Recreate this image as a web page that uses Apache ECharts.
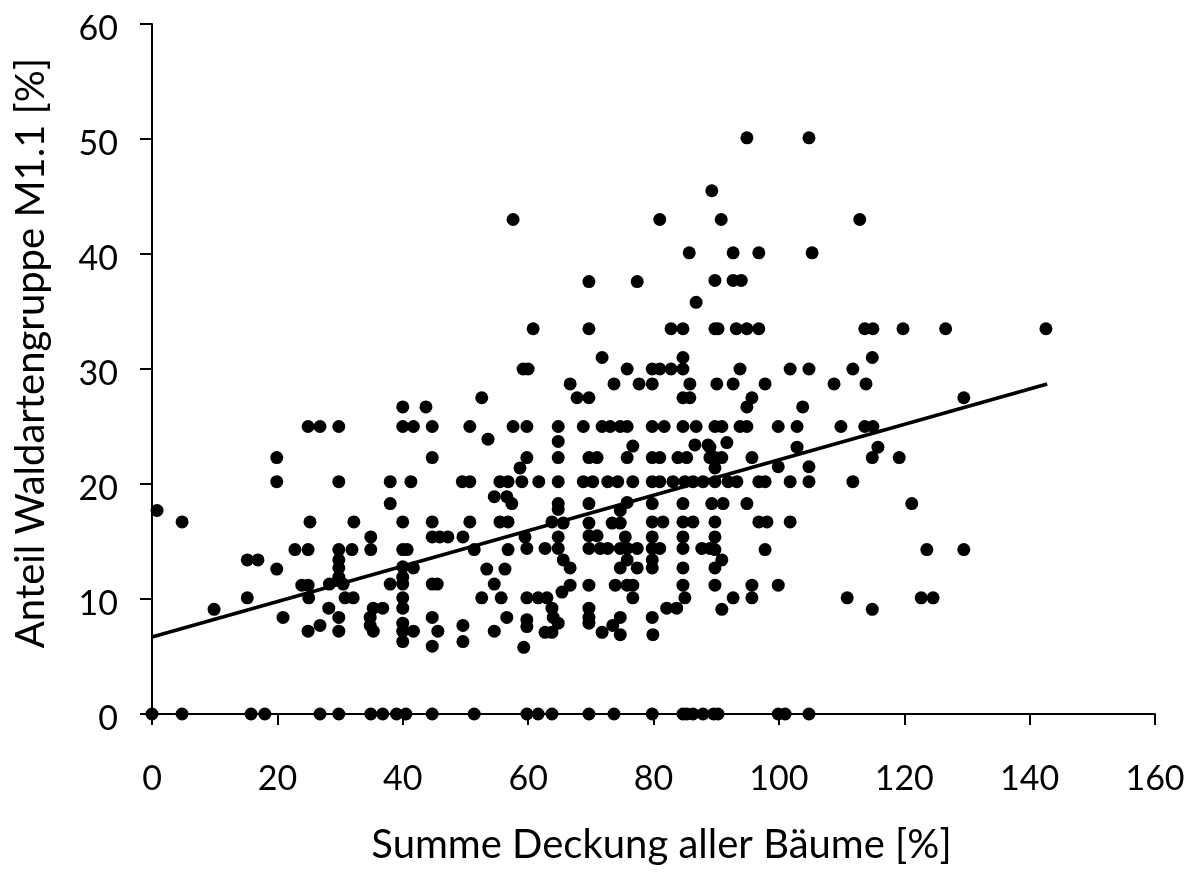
<!DOCTYPE html>
<html>
<head>
<meta charset="utf-8">
<script src="https://cdn.jsdelivr.net/npm/echarts@6/dist/echarts.min.js"></script>
<style>
html,body{margin:0;padding:0;background:#fff;}
#chart{width:1194px;height:877px;}
</style>
</head>
<body>
<div id="chart"></div>
<script>
// Observations with 0 % share
const zeroX = [0, 4.8, 15.8, 18, 26.8, 29.8, 34.9, 36.8, 39, 40.5, 44.7, 51.4, 59.8, 61.6, 63.8, 69.7, 73.7, 79.8, 84.7, 85.3, 86.3, 87.9, 89.6, 90.3, 99.9, 101, 104.8];

// Left part (0-30 %)
const groupA = [[0.8,17.7],[4.8,16.7],[19.9,22.3],[19.9,20.2],[24.9,25.0],[26.8,25.0],[25.2,16.7],[22.8,14.3],[24.9,14.3],[15.2,13.4],[16.9,13.4],[19.9,12.6],[9.9,9.1],[15.2,10.1],[20.9,8.4],[23.9,11.2],[24.9,11.2],[25.0,10.1],[26.8,7.7],[24.9,7.2]];

// 28-58 %
const groupB = [[29.8,25.0],[40.0,26.7],[43.7,26.7],[40.0,25.0],[41.7,25.0],[44.7,25.0],[50.7,25.0],[52.6,27.5],[53.6,23.9],[57.6,25.0],[44.7,22.3],[29.8,20.2],[38.0,20.2],[41.3,20.2],[49.5,20.2],[50.7,20.2],[55.5,20.2],[56.8,20.2],[38.0,18.3],[54.6,18.9],[56.6,18.9],[57.4,18.3],[32.2,16.7],[40.0,16.7],[44.7,16.7],[50.7,16.7],[55.5,16.7],[56.8,16.7],[34.9,15.4],[44.7,15.4],[45.9,15.4],[47.2,15.4],[49.6,15.4],[29.8,14.3],[31.9,14.3],[34.9,14.3],[40.0,14.3],[40.7,14.3],[51.4,14.3],[56.8,14.3],[29.8,13.4],[29.8,12.7],[29.8,11.9],[28.3,11.3],[30.5,11.3],[30.8,10.1],[32.1,10.1],[40.0,12.8],[41.7,12.7],[40.0,11.9],[38.0,11.3],[40.0,11.3],[44.7,11.3],[45.5,11.3],[53.4,12.6],[56.3,12.6],[54.6,11.3],[40.0,10.1],[40.0,9.2],[35.3,9.2],[36.8,9.2],[28.2,9.2],[52.6,10.1],[55.7,10.1],[29.8,8.4],[34.8,8.4],[34.8,7.7],[35.3,7.2],[40.0,7.9],[40.0,7.2],[41.7,7.2],[40.0,6.3],[44.7,8.4],[45.6,7.2],[44.7,5.9],[49.6,7.7],[49.6,6.3],[54.6,7.2],[56.6,8.4],[29.8,7.2]];

// 57-89 %
const groupC = [[57.6,43.0],[81.0,43.0],[85.7,40.1],[69.7,37.6],[77.4,37.6],[86.8,35.8],[60.8,33.5],[69.7,33.5],[82.8,33.5],[84.7,33.5],[71.8,31.0],[84.7,31.0],[59.2,30.0],[60.0,30.0],[75.8,30.0],[79.8,30.0],[81.0,30.0],[82.8,30.0],[84.7,30.0],[66.7,28.7],[73.7,28.7],[77.7,28.7],[79.8,28.7],[85.8,28.7],[67.8,27.5],[69.7,27.5],[84.7,27.5],[85.8,27.5],[59.8,25],[64.8,25],[68.8,25],[71.8,25],[73.1,25],[74.7,25],[75.8,25],[79.8,25],[81.7,25],[84.7,25],[86.8,25],[64.8,23.7],[76.7,23.3],[86.6,23.4],[88.7,23.4],[59.8,22.3],[64.8,22.3],[69.7,22.3],[71.0,22.3],[75.8,22.3],[79.8,22.3],[81.0,22.3],[83.9,22.3],[85.3,22.3],[89.0,22.3],[58.7,21.4],[59.0,20.2],[61.7,20.2],[64.8,20.2],[68.8,20.2],[70.3,20.2],[72.7,20.2],[74.3,20.2],[76.7,20.2],[79.8,20.2],[81.0,20.2],[83.1,20.2],[85.0,20.2],[86.3,20.2],[87.9,20.2],[64.8,18.3],[64.8,17.8],[69.7,18.3],[75.8,18.4],[74.7,17.7],[79.8,18.3],[84.7,18.3],[63.8,16.7],[65.6,16.6],[69.7,16.6],[73.4,16.6],[74.7,16.6],[79.8,16.7],[81.5,16.7],[84.7,16.7],[86.3,16.7],[59.5,15.4],[64.8,15.4],[69.7,15.5],[71.0,15.5],[75.5,15.4],[79.8,15.4],[84.7,15.4],[59.8,14.4],[62.7,14.4],[64.8,14.4],[69.7,14.4],[71.5,14.4],[72.7,14.4],[74.7,14.4],[75.8,14.4],[77.4,14.4],[79.8,14.4],[81.0,14.4],[84.7,14.4],[87.7,14.4],[89.0,14.4],[65.6,13.4],[66.7,12.7],[74.7,12.7],[75.8,13.4],[77.4,12.7],[79.8,13.4],[79.8,12.7],[84.7,12.7],[65.4,10.6],[66.7,11.2],[69.7,11.2],[73.9,11.2],[75.8,11.2],[76.7,11.2],[76.7,10.1],[84.7,11.2],[85.0,10.1],[59.8,10.1],[61.6,10.1],[63.0,10.1],[63.8,9.2],[69.7,9.2],[82.1,9.2],[83.7,9.2],[59.8,8.2],[64.0,8.4],[64.8,7.9],[69.7,8.4],[69.7,7.9],[74.7,8.4],[79.8,8.4],[59.8,7.6],[62.7,7.1],[63.8,7.1],[71.8,7.1],[73.5,7.7],[74.7,6.9],[79.9,6.9],[59.3,5.8]];

// 89-143 %
const groupD = [[94.9,50.1],[104.8,50.1],[89.3,45.5],[90.8,43.0],[112.9,43.0],[92.7,40.1],[96.8,40.1],[105.3,40.1],[89.8,37.7],[92.7,37.7],[94.0,37.7],[89.8,33.5],[90.3,33.5],[93.2,33.5],[94.9,33.5],[96.8,33.5],[113.7,33.5],[115.0,33.5],[119.8,33.5],[126.6,33.5],[142.6,33.5],[114.9,31.0],[93.8,30.0],[101.8,30.0],[104.8,30.0],[111.8,30.0],[90.1,28.7],[92.7,28.7],[97.8,28.7],[108.8,28.7],[113.9,28.7],[95.7,27.5],[129.5,27.5],[94.9,26.7],[103.8,26.7],[89.8,25],[90.9,25],[93.8,25],[94.9,25],[99.9,25],[102.9,25],[109.9,25],[113.7,25],[115.0,25],[91.7,23.6],[102.9,23.2],[115.8,23.2],[89.0,23.2],[89.8,22.3],[90.9,22.3],[95.7,22.3],[114.9,22.3],[119.2,22.3],[89.8,21.4],[99.9,21.5],[104.8,21.5],[89.8,20.2],[91.9,20.2],[93.3,20.2],[96.8,20.2],[97.8,20.2],[101.8,20.2],[104.8,20.2],[111.8,20.2],[89.3,18.3],[91.1,18.3],[94.9,18.3],[121.2,18.3],[89.8,16.7],[96.8,16.7],[98.1,16.7],[101.8,16.7],[89.8,15.4],[89.8,14.3],[97.8,14.3],[123.6,14.3],[129.5,14.3],[90.9,13.4],[89.8,12.7],[89.8,11.2],[95.7,11.2],[99.9,11.2],[92.7,10.1],[95.7,10.1],[110.9,10.1],[122.7,10.1],[124.6,10.1],[90.9,9.1],[114.9,9.1]];

// Linear trend line endpoints
const trendX = [0, 142.8];
const trendY = [6.7, 28.7];

const xTitle = 'Summe Deckung aller Bäume [%]';
const yTitle = 'Anteil Waldartengruppe M1.1 [%]';

const scatterData = zeroX.map(x => [x, 0]).concat(groupA, groupB, groupC, groupD);
const trendData = trendX.map((x, i) => [x, trendY[i]]);

const FONT = 'Lato';
const chart = echarts.init(document.getElementById('chart'), null, {renderer: 'canvas'});
chart.setOption({
  animation: false,
  backgroundColor: '#ffffff',
  grid: {left: 152, right: 39, top: 24, bottom: 163, containLabel: false},
  xAxis: {
    type: 'value', min: 0, max: 160, interval: 20,
    name: xTitle, nameLocation: 'middle', nameGap: 111,
    nameTextStyle: {fontFamily: FONT, fontSize: 40, color: '#000', padding: [0, 0, 0, 16]},
    axisLine: {show: true, onZero: false, lineStyle: {color: '#000', width: 2}},
    axisTick: {show: true, inside: false, length: 11, lineStyle: {color: '#000', width: 2}},
    axisLabel: {fontFamily: FONT, fontSize: 34, color: '#000', margin: 48},
    splitLine: {show: false}
  },
  yAxis: {
    type: 'value', min: 0, max: 60, interval: 10,
    name: yTitle, nameLocation: 'middle', nameGap: 101, nameRotate: 90,
    nameTextStyle: {fontFamily: FONT, fontSize: 40, color: '#000', padding: [0, 0, 0, 32]},
    axisLine: {show: true, onZero: false, lineStyle: {color: '#000', width: 2}},
    axisTick: {show: true, inside: false, length: 12, lineStyle: {color: '#000', width: 2}},
    axisLabel: {fontFamily: FONT, fontSize: 34, color: '#000', margin: 34, verticalAlign: 'top', lineHeight: 10},
    splitLine: {show: false}
  },
  series: [
    {
      type: 'scatter', data: scatterData, symbol: 'circle', symbolSize: 13,
      itemStyle: {color: '#000', opacity: 1}, z: 3, silent: true
    },
    {
      type: 'line', data: trendData, symbol: 'none', showSymbol: false,
      lineStyle: {color: '#000', width: 3.5}, z: 4, silent: true
    }
  ]
});
</script>
</body>
</html>
